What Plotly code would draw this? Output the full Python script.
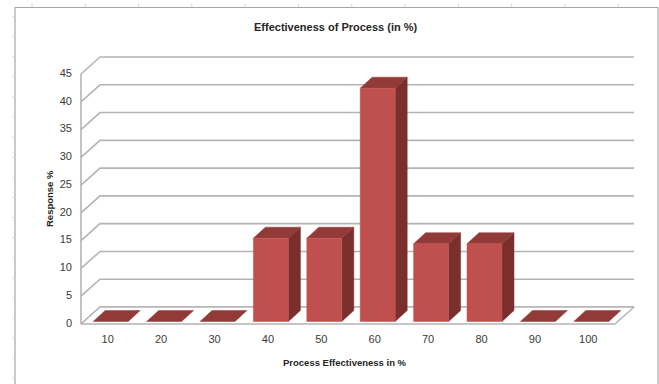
import numpy as np
import plotly.graph_objects as go

# ---- data -------------------------------------------------------------
categories = ["10", "20", "30", "40", "50", "60", "70", "80", "90", "100"]
response_pct = [0, 0, 0, 15, 15, 42, 14, 14, 0, 0]
y_ticks = [0, 5, 10, 15, 20, 25, 30, 35, 40, 45]

chart_title = "Effectiveness of Process (in %)"
x_title = "Process Effectiveness in %"
y_title = "Response %"

# ---- page geometry (pixels) -------------------------------------------
W, H = 659, 384
PX_PER_CAT = 53.4            # horizontal pixels per category slot
PX_PER_UNIT = 250 / 45       # vertical pixels per percent
FLOOR_LEFT_PX = 81           # left front corner of the floor
FLOOR_FRONT_PX = 324         # y pixel of the value 0 on the front plane

xmin = -0.5 - FLOOR_LEFT_PX / PX_PER_CAT
xmax = xmin + W / PX_PER_CAT
ymin = -(H - FLOOR_FRONT_PX) / PX_PER_UNIT
ymax = FLOOR_FRONT_PX / PX_PER_UNIT


def dx(px):
    return px / PX_PER_CAT


def dy(px):
    return px / PX_PER_UNIT


# depth of the walls and of the columns (oblique projection)
WALL_DX, WALL_DY = dx(19), dy(17)
BAR_DX, BAR_DY = dx(12), dy(11)
BAR_SX, BAR_SY = dx(3), dy(2.5)
BAR_W = dx(35)

n = len(categories)
xs = np.arange(n)
vals = np.array(response_pct, dtype=float)
x_lo, x_hi = -0.5, n - 0.5

GRID = "#b4b4b4"
FRONT = "#c0504d"
TOP = "#923a38"
SIDE = "#7a2f2d"
TEXT = "#3a3a3a"
FONT = "Liberation Sans Narrow, Liberation Sans, Arial, sans-serif"

fig = go.Figure()

# back-wall gridlines and their continuation on the left wall
gx, gy = [], []
for t in y_ticks:
    gx += [x_lo, x_lo + WALL_DX, x_hi + WALL_DX, None]
    gy += [t, t + WALL_DY, t + WALL_DY, None]
# left wall front edge
gx += [x_lo, x_lo, None]
gy += [0, y_ticks[-1], None]
fig.add_trace(go.Scatter(x=gx, y=gy, mode="lines",
                         line=dict(color=GRID, width=1.6),
                         hoverinfo="skip", showlegend=False))

# floor
fig.add_trace(go.Scatter(
    x=[x_lo, x_hi, x_hi + WALL_DX, x_lo + WALL_DX, x_lo],
    y=[0, 0, WALL_DY, WALL_DY, 0],
    mode="lines", fill="toself", fillcolor="white",
    line=dict(color=GRID, width=1.4),
    hoverinfo="skip", showlegend=False))


def faces(kind):
    px_, py_ = [], []
    for xi, v in zip(xs, vals):
        x0 = xi + BAR_SX - BAR_W / 2
        x1 = xi + BAR_SX + BAR_W / 2
        y0 = BAR_SY
        y1 = BAR_SY + v
        if kind == "side":
            if v <= 0:
                continue
            px_ += [x1, x1 + BAR_DX, x1 + BAR_DX, x1, x1, None]
            py_ += [y0, y0 + BAR_DY, y1 + BAR_DY, y1, y0, None]
        elif kind == "top":
            px_ += [x0, x1, x1 + BAR_DX, x0 + BAR_DX, x0, None]
            py_ += [y1, y1, y1 + BAR_DY, y1 + BAR_DY, y1, None]
        else:
            if v <= 0:
                continue
            px_ += [x0, x1, x1, x0, x0, None]
            py_ += [y0, y0, y1, y1, y0, None]
    return px_, py_


for kind, col in (("side", SIDE), ("top", TOP), ("front", FRONT)):
    fx, fy = faces(kind)
    fig.add_trace(go.Scatter(x=fx, y=fy, mode="lines", fill="toself",
                             fillcolor=col, line=dict(color=col, width=0.5),
                             hoverinfo="skip", showlegend=False))

# value axis labels
fig.add_trace(go.Scatter(
    x=[x_lo - dx(9)] * len(y_ticks), y=y_ticks,
    text=[str(t) for t in y_ticks], mode="text",
    textposition="middle left",
    textfont=dict(family=FONT, size=11, color=TEXT),
    hoverinfo="skip", showlegend=False))

# category labels
fig.add_trace(go.Scatter(
    x=xs, y=[-dy(16)] * n, text=categories, mode="text",
    textposition="middle center",
    textfont=dict(family=FONT, size=11, color=TEXT),
    hoverinfo="skip", showlegend=False))

# chart-area frame with the surrounding sheet grid ticks
shapes = []
frame = dict(type="line", xref="paper", yref="paper",
             line=dict(color="#a6a6a6", width=1.2))
shapes.append({**frame, "x0": 15 / W, "x1": 658 / W,
               "y0": 1 - 7.5 / H, "y1": 1 - 7.5 / H})
shapes.append({**frame, "x0": 15 / W, "x1": 15 / W,
               "y0": 0, "y1": 1 - 7.5 / H})
shapes.append({**frame, "x0": 658 / W, "x1": 658 / W,
               "y0": 0, "y1": 1 - 7.5 / H})
tick = dict(type="line", xref="paper", yref="paper",
            line=dict(color="#d4d4d4", width=1))
for xp in np.arange(32, 650, 53.3):
    shapes.append({**tick, "x0": xp / W, "x1": xp / W,
                   "y0": 1 - 3.5 / H, "y1": 1 - 7 / H})
for yp in np.arange(16.5, 384, 20.1):
    shapes.append({**tick, "x0": 12.5 / W, "x1": 15 / W,
                   "y0": 1 - yp / H, "y1": 1 - yp / H})

centered = dict(xref="paper", yref="paper", showarrow=False,
                xanchor="center", yanchor="middle")
annotations = [
    dict(text=f"<b>{chart_title}</b>", x=336 / W, y=1 - 27 / H,
         font=dict(family=FONT, size=11, color="#262626"), **centered),
    dict(text=f"<b>{x_title}</b>", x=345 / W, y=1 - 362 / H,
         font=dict(family=FONT, size=9.5, color="#262626"), **centered),
    dict(text=f"<b>{y_title}</b>", x=49 / W, y=1 - 199 / H, textangle=-90,
         font=dict(family=FONT, size=9.5, color="#262626"), **centered),
]

fig.update_layout(
    width=W, height=H,
    margin=dict(l=0, r=0, t=0, b=0),
    paper_bgcolor="white", plot_bgcolor="white",
    xaxis=dict(range=[xmin, xmax], visible=False, fixedrange=True),
    yaxis=dict(range=[ymin, ymax], visible=False, fixedrange=True),
    shapes=shapes, annotations=annotations,
    showlegend=False,
)

fig.write_html("out.html")
